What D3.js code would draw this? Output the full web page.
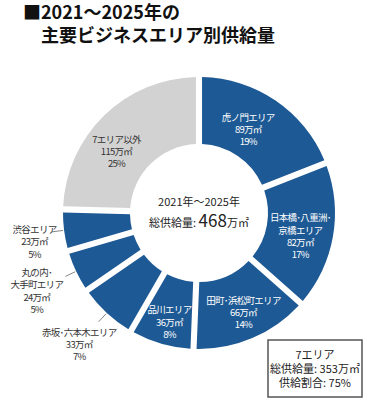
<!DOCTYPE html>
<html>
<head>
<meta charset="utf-8">
<script src="https://cdn.jsdelivr.net/npm/d3@7"></script>
<style>
  body { margin: 0; background: #fff; }
  text { font-family: "Noto Sans CJK JP", "Noto Sans", sans-serif; }
</style>
</head>
<body>
<div id="chart"></div>
<script>
// chart data
var areaNames = [
  ["虎ノ門エリア"],
  ["日本橋･八重洲･", "京橋エリア"],
  ["田町･浜松町エリア"],
  ["品川エリア"],
  ["赤坂･六本木エリア"],
  ["丸の内･", "大手町エリア"],
  ["渋谷エリア"],
  ["7エリア以外"]
];
var supply = [89, 82, 66, 36, 33, 24, 23, 115];   // 万㎡
var share = [19, 17, 14, 8, 7, 5, 5, 25];          // %
var outside = [false, false, false, false, true, true, true, false];

var titleLines = ["■2021～2025年の", "主要ビジネスエリア別供給量"];
var centerLines = ["2021年～2025年", "468"];
var boxLines = ["7エリア", "総供給量: 353万㎡", "供給割合: 75%"];

// label placement (radius from centre, angle nudge in degrees)
var labelR = [97, 104, 109, 113, 178, 180, 167, 103];
var labelNudge = [-3.7, 3, -1, -1, -0.4, -0.3, -2.6, -9];

var width = 372, height = 399;
var cx = 199, cy = 213;
var outerR = 136, innerR = 69;
var blue = "#1d5994", grey = "#d2d2d2";

var svg = d3.select("#chart").append("svg")
  .attr("width", width)
  .attr("height", height);

// title
svg.append("text").attr("x", 23).attr("y", 19)
  .attr("font-size", 18).attr("font-weight", "bold").attr("fill", "#111")
  .text(titleLines[0]);
svg.append("text").attr("x", 41).attr("y", 42)
  .attr("font-size", 18).attr("font-weight", "bold").attr("fill", "#111")
  .text(titleLines[1]);

var pie = d3.pie().sort(null).value(function(d) { return d; });
var arcs = pie(supply);

var arc = d3.arc()
  .innerRadius(innerR)
  .outerRadius(outerR)
  .padAngle(0.04);

var g = svg.append("g").attr("transform", "translate(" + cx + "," + cy + ")");

g.selectAll("path.slice")
  .data(arcs)
  .enter()
  .append("path")
  .attr("class", "slice")
  .attr("d", arc)
  .attr("fill", function(d, i) { return i === arcs.length - 1 ? grey : blue; });

function midAngle(d) { return (d.startAngle + d.endAngle) / 2; }
function polar(a, r) { return [Math.sin(a) * r, -Math.cos(a) * r]; }

// labels
var lineH = 12.3;
arcs.forEach(function(d, i) {
  var a = midAngle(d);
  var lines = areaNames[i].concat([supply[i] + "万㎡", share[i] + "%"]);
  var p = polar(a + labelNudge[i] * Math.PI / 180, labelR[i]);
  var fill = (outside[i] || i === arcs.length - 1) ? "#333" : "#fff";
  if (outside[i]) {
    var p1 = polar(a, outerR + 1);
    var p2 = polar(a, 148);
    g.append("line")
      .attr("x1", p1[0]).attr("y1", p1[1])
      .attr("x2", p2[0]).attr("y2", p2[1])
      .attr("stroke", "#666").attr("stroke-width", 0.8);
  }
  var t = g.append("text")
    .attr("text-anchor", "middle")
    .attr("font-size", 9.5)
    .attr("letter-spacing", -0.7)
    .attr("fill", fill);
  lines.forEach(function(s, k) {
    t.append("tspan")
      .attr("x", p[0])
      .attr("y", p[1] + (k - (lines.length - 1) / 2) * lineH + 3.5)
      .text(s);
  });
});

// centre text
g.append("text").attr("text-anchor", "middle").attr("y", -7)
  .attr("font-size", 11).attr("fill", "#222")
  .text(centerLines[0]);
var ct = g.append("text").attr("text-anchor", "middle").attr("y", 14)
  .attr("fill", "#222");
ct.append("tspan").attr("font-size", 11).text("総供給量: ");
ct.append("tspan").attr("font-size", 17).text(centerLines[1]);
ct.append("tspan").attr("font-size", 11).text("万㎡");

// summary box
var box = svg.append("g").attr("transform", "translate(268,340)");
box.append("rect")
  .attr("width", 94).attr("height", 57)
  .attr("fill", "#fff").attr("stroke", "#555").attr("stroke-width", 1.5);
boxLines.forEach(function(s, k) {
  box.append("text")
    .attr("x", 47).attr("y", 19 + k * 14)
    .attr("text-anchor", "middle")
    .attr("font-size", 11).attr("fill", "#222")
    .text(s);
});
</script>
</body>
</html>
